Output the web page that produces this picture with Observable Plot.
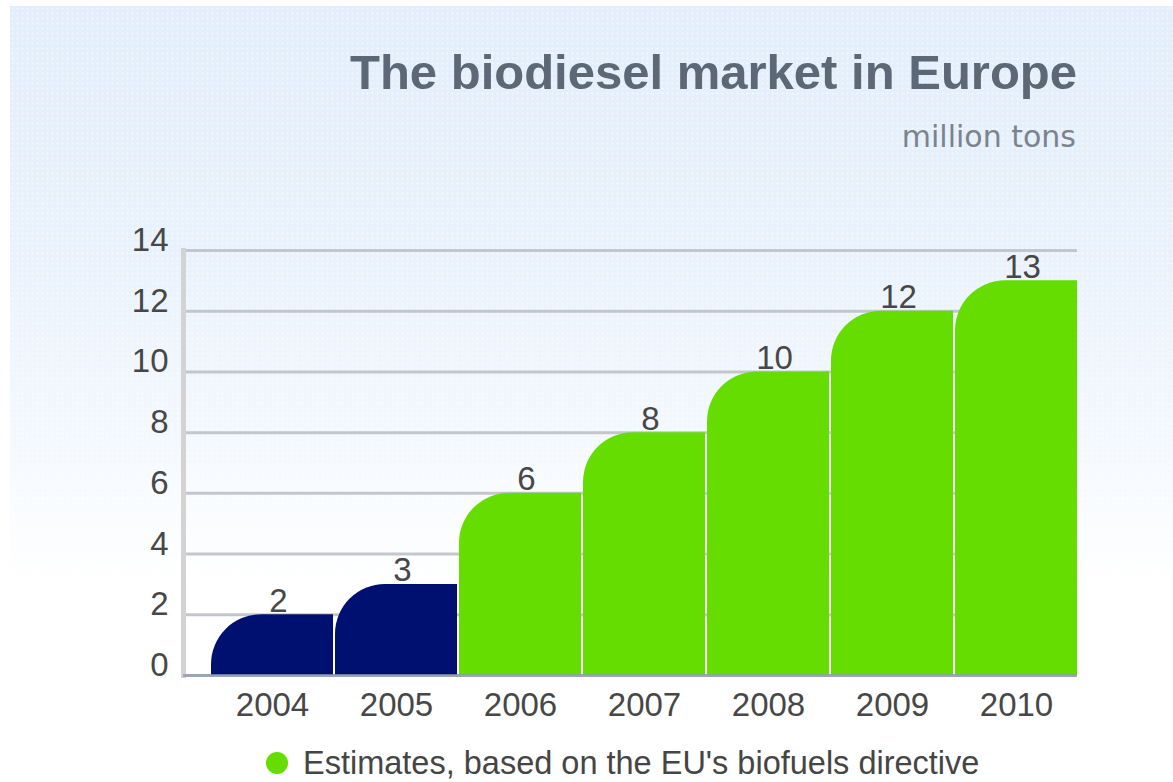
<!DOCTYPE html>
<html>
<head>
<meta charset="utf-8">
<script src="https://cdn.jsdelivr.net/npm/d3@7"></script>
<script src="https://cdn.jsdelivr.net/npm/@observablehq/plot@0.6"></script>
<style>
  html, body { margin: 0; padding: 0; background: #ffffff; }
  #wrap {
    position: relative; width: 1173px; height: 782px; overflow: hidden;
    background: #ffffff;
  }
  #bg {
    position: absolute; left: 10px; top: 6px; right: 0; bottom: 0;
    background-image:
      radial-gradient(rgba(255,255,255,0.55) 0.8px, transparent 1.2px),
      linear-gradient(to bottom, #e2eefb 0px, #e9f2fc 250px, #f3f8fe 420px, #ffffff 580px);
    background-size: 5px 5px, 100% 100%;
  }
  #title {
    position: absolute; right: 96px; top: 48px;
    font: bold 49px/1 "Liberation Sans", Arial, sans-serif; color: #5d6877;
    white-space: nowrap;
  }
  #subtitle {
    position: absolute; right: 97px; top: 122px;
    font: 30px/1 "DejaVu Sans", Verdana, sans-serif; color: #7b838e;
    white-space: nowrap;
  }
  #chart { position: absolute; left: 0; top: 200px; }
  #legend {
    position: absolute; left: 266px; top: 747px;
    font: 32.5px/1 "Liberation Sans", Arial, sans-serif; color: #454545;
    white-space: nowrap; display: flex; align-items: center;
  }
  #legend .dot {
    display: inline-block; width: 22px; height: 22px; border-radius: 50%;
    background: #66dd00; margin-right: 15px;
  }
</style>
</head>
<body>
<div id="wrap">
  <div id="bg"></div>
  <div id="title">The biodiesel market in Europe</div>
  <div id="subtitle">million tons</div>
  <div id="chart"></div>
  <div id="legend"><span class="dot"></span><span id="legendText"></span></div>
</div>
<script>
const years = ["2004", "2005", "2006", "2007", "2008", "2009", "2010"];
const values = [2, 3, 6, 8, 10, 12, 13];
const kinds = ["actual", "actual", "estimate", "estimate", "estimate", "estimate", "estimate"];
const yTicks = [0, 2, 4, 6, 8, 10, 12, 14];
const kindDomain = ["actual", "estimate"];
const kindColors = ["#001070", "#66dd00"];
const legendLabel = "Estimates, based on the EU's biofuels directive";

const data = years.map((year, i) => ({year, value: values[i], kind: kinds[i]}));

document.getElementById("legendText").textContent = legendLabel;

const chart = Plot.plot({
  width: 1173,
  height: 530,
  marginTop: 50,
  marginBottom: 55,
  marginLeft: 183,
  marginRight: 96,
  style: {background: "transparent", fontFamily: "'Liberation Sans', Arial, sans-serif", color: "#474747"},
  x: {domain: years, paddingInner: 0.02, paddingOuter: 0, insetLeft: 28, axis: null},
  y: {domain: [0, 14], axis: null},
  color: {domain: kindDomain, range: kindColors},
  marks: [
    Plot.ruleY(yTicks, {stroke: "#c3c6cd", strokeWidth: 3}),
    Plot.frame({anchor: "left", stroke: "#d3d3d3", strokeWidth: 5}),
    Plot.barY(data, {x: "year", y: "value", fill: "kind", rx1y1: 50}),
    Plot.ruleY([0], {stroke: "#8f98b0", strokeWidth: 3, strokeOpacity: 0.75}),
    Plot.text(data, {x: "year", y: "value", text: d => String(d.value), lineAnchor: "bottom", dy: -3, dx: 6, fontSize: 33, fill: "#474747"}),
    Plot.axisY({ticks: yTicks, tickSize: 0, tickPadding: 15, fontSize: 33, dy: -10, tickFormat: d => String(d), label: null}),
    Plot.axisX({tickSize: 0, tickPadding: 17, fontSize: 33, label: null})
  ]
});
document.getElementById("chart").appendChild(chart);
</script>
</body>
</html>
